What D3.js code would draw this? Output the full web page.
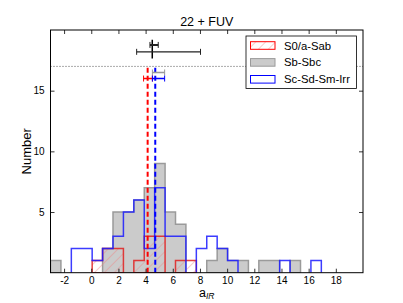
<!DOCTYPE html>
<html>
<head>
<meta charset="utf-8">
<script src="https://cdn.jsdelivr.net/npm/d3@7"></script>
<style>
  body { margin: 0; background: #fff; }
  svg text { font-family: "Liberation Sans", Arial, sans-serif; }
</style>
</head>
<body>
<script>
// histogram bins: 30 equal bins from -3 to 20
let binStart = -3
let binEnd = 20
let nBins = 30

// counts per bin
let sbSbc = [1,0,0,0,0,2,5,5,6,7,9,5,4,0,0,1,2,1,1,0,1,1,0,1,0,0,0,0,0,0]
let scIrr = [0,0,2,2,1,2,3,5,6,2,7,3,3,0,2,3,2,1,0,0,0,0,1,0,0,1,0,0,0,0]
let s0Sab = [0,0,0,0,1,2,2,0,1,3,3,0,1,1,0,0,0,0,0,0,0,0,0,0,0,0,0,0,0,0]

let seriesNames = ["S0/a-Sab", "Sb-Sbc", "Sc-Sd-Sm-Irr"]

// medians (dashed lines) and their error bars
let medianRed = 4.15
let medianBlue = 4.71
let errRed = [3.85, 4.5]
let errBlue = [4.5, 5.4]
let errGray = [4.5, 5.4]
let errY = [16, 16, 16.5]

// black points at the top
let blackX = 4.49
let blackSmall = [4.32, 4.93]
let blackBig = [3.34, 8.04]
let blackY = [18.77, 18.2]
let blackVert = [17.65, 19.2]
let limitY = 17

let xTicks = [-2, 0, 2, 4, 6, 8, 10, 12, 14, 16, 18]
let yTicks = [5, 10, 15]

let width = 403
let height = 303
let padL = 50.5, padR = 363, padT = 30, padB = 272.7

let edges = d3.range(nBins + 1).map(i => binStart + i * (binEnd - binStart) / nBins)

let x = d3.scaleLinear().domain([binStart, binEnd]).range([padL, padR])
let y = d3.scaleLinear().domain([0, 20]).range([padB, padT])

let svg = d3.select("body").append("svg")
    .attr("width", width)
    .attr("height", height)

let defs = svg.append("defs")
defs.append("clipPath").attr("id", "plotclip")
    .append("rect")
    .attr("x", padL).attr("y", padT)
    .attr("width", padR - padL).attr("height", padB - padT)

// hatch for the red histogram
let hatch = defs.append("pattern")
    .attr("id", "hatch")
    .attr("patternUnits", "userSpaceOnUse")
    .attr("width", 7).attr("height", 7)
    .attr("patternTransform", "rotate(45)")
hatch.append("line")
    .attr("x1", 0).attr("y1", 0).attr("x2", 0).attr("y2", 7)
    .attr("stroke", "#f08080").attr("stroke-width", 1).attr("opacity", 0.8)

// step outline points for each run of non-zero bins
function runs(counts) {
    let out = []
    let cur = null
    counts.forEach((c, i) => {
        if (c > 0) {
            if (!cur) { cur = [[edges[i], 0]]; out.push(cur) }
            cur.push([edges[i], c], [edges[i + 1], c])
        } else if (cur) {
            cur.push([edges[i], 0])
            cur = null
        }
    })
    if (cur) cur.push([edges[counts.length], 0])
    return out
}

let line = d3.line().x(d => x(d[0])).y(d => y(d[1]))

let plot = svg.append("g").attr("clip-path", "url(#plotclip)")

// gray filled histogram
runs(sbSbc).forEach(pts => {
    plot.append("path")
        .attr("d", line(pts) + "Z")
        .attr("fill", "#cbcbcb")
        .attr("stroke", "#9a9a9a")
        .attr("stroke-width", 1.5)
})

// red hatched histogram
runs(s0Sab).forEach(pts => {
    plot.append("path")
        .attr("d", line(pts) + "Z")
        .attr("fill", "url(#hatch)")
        .attr("stroke", "#e02020")
        .attr("stroke-width", 1.5)
        .attr("stroke-opacity", 0.85)
})

// blue step histogram
runs(scIrr).forEach(pts => {
    plot.append("path")
        .attr("d", line(pts))
        .attr("fill", "none")
        .attr("stroke", "#1a1aff")
        .attr("stroke-width", 1.5)
        .attr("stroke-opacity", 0.85)
})

// dotted limit line
plot.append("line")
    .attr("x1", padL).attr("x2", padR)
    .attr("y1", y(limitY)).attr("y2", y(limitY))
    .attr("stroke", "#555").attr("stroke-width", 1)
    .attr("stroke-dasharray", "1,2")

// median dashed lines
let medians = [[medianRed, "#ff0000"], [medianBlue, "#0000ff"]]
medians.forEach(m => {
    plot.append("line")
        .attr("x1", x(m[0])).attr("x2", x(m[0]))
        .attr("y1", y(0)).attr("y2", y(limitY))
        .attr("stroke", m[1]).attr("stroke-width", 2)
        .attr("stroke-dasharray", "5,3")
})

// error bars with caps
function errbar(range, yv, color, w) {
    plot.append("line")
        .attr("x1", x(range[0])).attr("x2", x(range[1]))
        .attr("y1", y(yv)).attr("y2", y(yv))
        .attr("stroke", color).attr("stroke-width", w)
    range.forEach(v => {
        plot.append("line")
            .attr("x1", x(v)).attr("x2", x(v))
            .attr("y1", y(yv) - 3).attr("y2", y(yv) + 3)
            .attr("stroke", color).attr("stroke-width", 1)
    })
}
errbar(errGray, errY[2], "#999", 1.5)
errbar(errRed, errY[0], "#ff0000", 1.5)
errbar(errBlue, errY[1], "#0000ff", 1.5)

// black points
plot.append("line")
    .attr("x1", x(blackX)).attr("x2", x(blackX))
    .attr("y1", y(blackVert[0])).attr("y2", y(blackVert[1]))
    .attr("stroke", "#000").attr("stroke-width", 1.5)
errbar(blackBig, blackY[1], "#222", 1.2)
errbar(blackSmall, blackY[0], "#222", 2)

// axes: frame with inward ticks on all sides
let xAxis = d3.axisBottom(x).tickValues(xTicks).tickSizeInner(-4).tickSizeOuter(0).tickPadding(4)
    .tickFormat(d3.format("d"))
let gx = svg.append("g").attr("transform", "translate(0," + padB + ")").call(xAxis)
let gxt = svg.append("g").attr("transform", "translate(0," + padT + ")")
    .call(d3.axisTop(x).tickValues(xTicks).tickSizeInner(-4).tickSizeOuter(0).tickFormat(""))
let yAxis = d3.axisLeft(y).tickValues(yTicks).tickSizeInner(-4).tickSizeOuter(0).tickPadding(6)
let gy = svg.append("g").attr("transform", "translate(" + padL + ",0)").call(yAxis)
let gyr = svg.append("g").attr("transform", "translate(" + padR + ",0)")
    .call(d3.axisRight(y).tickValues(yTicks).tickSizeInner(-4).tickSizeOuter(0).tickFormat(""))

;[gx, gxt, gy, gyr].forEach(g => {
    g.select(".domain").remove()
    g.selectAll(".tick line").attr("stroke", "#000").attr("stroke-width", 0.8)
    g.selectAll("text").attr("font-size", 10).attr("fill", "#000")
        .attr("font-family", "'Liberation Sans', Arial, sans-serif")
})
gx.selectAll("text").text(d => d < 0 ? "-" + Math.abs(d) : d)

svg.append("rect")
    .attr("x", padL).attr("y", padT)
    .attr("width", padR - padL).attr("height", padB - padT)
    .attr("fill", "none").attr("stroke", "#000").attr("stroke-width", 1)

// legend
let lg = svg.append("g")
lg.append("rect")
    .attr("x", 246).attr("y", 36).attr("width", 110.5).attr("height", 52.5)
    .attr("fill", "#fff").attr("stroke", "#000").attr("stroke-width", 0.8)
let legendStyles = [
    {fill: "url(#hatch)", stroke: "#ff0000"},
    {fill: "#cbcbcb", stroke: "#9a9a9a"},
    {fill: "none", stroke: "#0000ff"}
]
seriesNames.forEach((name, i) => {
    let yy = 41.7 + i * 16.9
    lg.append("rect")
        .attr("x", 250.5).attr("y", yy).attr("width", 24.5).attr("height", 7.6)
        .attr("fill", legendStyles[i].fill).attr("stroke", legendStyles[i].stroke)
        .attr("stroke-width", 1)
    lg.append("text")
        .attr("x", 284).attr("y", yy + 7.8)
        .attr("font-size", 11.3)
        .text(name)
})

// title and axis labels
svg.append("text")
    .attr("x", (padL + padR) / 2).attr("y", 26)
    .attr("text-anchor", "middle").attr("font-size", 12.5)
    .text("22 + FUV")

let xl = svg.append("text")
    .attr("x", (padL + padR) / 2).attr("y", 296.5)
    .attr("text-anchor", "middle").attr("font-size", 12.5)
xl.append("tspan").text("a")
xl.append("tspan").attr("dy", 2.5).attr("font-size", 8.5).attr("font-style", "italic").text("IR")

svg.append("text")
    .attr("transform", "translate(31," + ((padT + padB) / 2) + ") rotate(-90)")
    .attr("text-anchor", "middle").attr("font-size", 13)
    .text("Number")
</script>
</body>
</html>
